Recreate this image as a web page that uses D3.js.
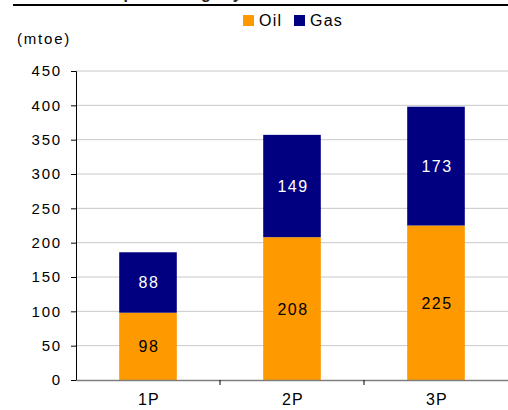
<!DOCTYPE html>
<html>
<head>
<meta charset="utf-8">
<script src="https://cdn.jsdelivr.net/npm/d3@7"></script>
<style>
  body { margin: 0; background: #fff; }
  svg { display: block; font-family: Arial, "Liberation Sans", sans-serif; }
  text { letter-spacing: 1.8px; }
</style>
</head>
<body>
<svg id="chart" width="508" height="410"></svg>
<script>
// data
const categories = ["1P", "2P", "3P"];
const oil = [98, 208, 225];
const gas = [88, 149, 173];
const yTicks = [0, 50, 100, 150, 200, 250, 300, 350, 400, 450];
const seriesNames = ["Oil", "Gas"];
const colors = ["#FF9900", "#000080"];

const svg = d3.select("#chart");
const plotLeft = 76, plotRight = 508, plotTop = 71, plotBottom = 380;

const x = d3.scaleBand().domain(categories).range([plotLeft, plotRight]).paddingInner(0.6).paddingOuter(0.3);
const band = d3.scaleBand().domain(categories).range([plotLeft, plotRight]);
const y = d3.scaleLinear().domain([0, 450]).range([plotBottom, plotTop]);

// cut-off title + rule
svg.append("text")
    .attr("x", 30).attr("y", -1)
    .style("font-size", "16px").style("font-weight", "bold")
    .style("letter-spacing", "2px")
    .attr("fill", "#222")
    .text("Reserves per category");
svg.append("line")
    .attr("x1", 13).attr("x2", 508).attr("y1", 5).attr("y2", 5)
    .attr("stroke", "#000").attr("stroke-width", 2);

// gridlines
svg.append("g").selectAll("line")
    .data(yTicks.filter(d => d > 0))
    .join("line")
    .attr("x1", plotLeft).attr("x2", plotRight)
    .attr("y1", d => y(d)).attr("y2", d => y(d))
    .attr("stroke", "#c8c8c8").attr("stroke-width", 1);

// stacked bars
const rows = categories.map((c, i) => ({ cat: c, Oil: oil[i], Gas: gas[i] }));
const stacked = d3.stack().keys(seriesNames)(rows);

const layers = svg.append("g").selectAll("g")
    .data(stacked)
    .join("g")
    .attr("fill", (d, i) => colors[i]);

layers.selectAll("rect")
    .data(d => d)
    .join("rect")
    .attr("x", d => x(d.data.cat))
    .attr("width", x.bandwidth())
    .attr("y", d => y(d[1]))
    .attr("height", d => y(d[0]) - y(d[1]));

layers.each(function(layer, li) {
    d3.select(this).selectAll("text")
        .data(layer)
        .join("text")
        .attr("x", d => x(d.data.cat) + x.bandwidth() / 2 + 1)
        .attr("y", d => (y(d[0]) + y(d[1])) / 2 + 6)
        .attr("text-anchor", "middle")
        .attr("fill", li === 0 ? "#000" : "#fff")
        .style("font-size", "16px")
        .style("letter-spacing", "1.5px")
        .text(d => d[1] - d[0]);
});

// y axis
const yAxis = svg.append("g")
    .attr("transform", `translate(${plotLeft},0)`)
    .call(d3.axisLeft(y).tickValues(yTicks).tickSize(5).tickPadding(9));
yAxis.select(".domain").attr("stroke", "#000");
yAxis.selectAll(".tick line").attr("stroke", "#000");
yAxis.selectAll(".tick text")
    .style("font-size", "15px").style("font-family", "Arial, 'Liberation Sans', sans-serif")
    .attr("fill", "#000");

// x axis
const xAxis = svg.append("g")
    .attr("transform", `translate(0,${plotBottom})`)
    .call(d3.axisBottom(band).tickSize(0).tickPadding(14));
xAxis.select(".domain").attr("stroke", "#808080").attr("stroke-width", 1.5);
xAxis.selectAll(".tick text")
    .attr("dx", 1)
    .style("font-size", "16px").style("font-family", "Arial, 'Liberation Sans', sans-serif")
    .style("letter-spacing", "1.2px")
    .attr("fill", "#000");
// separators between categories
xAxis.append("g").selectAll("line")
    .data(categories.slice(1))
    .join("line")
    .attr("x1", d => band(d)).attr("x2", d => band(d))
    .attr("y1", 0).attr("y2", 5)
    .attr("stroke", "#000");

// unit label
svg.append("text")
    .attr("x", 17).attr("y", 44)
    .style("font-size", "15px")
    .text("(mtoe)");

// legend
const legend = svg.append("g").selectAll("g")
    .data(seriesNames)
    .join("g")
    .attr("transform", (d, i) => `translate(${243 + i * 51},15)`);
legend.append("rect")
    .attr("width", 11).attr("height", 11)
    .attr("fill", (d, i) => colors[i]);
legend.append("text")
    .attr("x", 16).attr("y", 11)
    .style("font-size", "16px")
    .style("letter-spacing", "1.2px")
    .text(d => d);
</script>
</body>
</html>
